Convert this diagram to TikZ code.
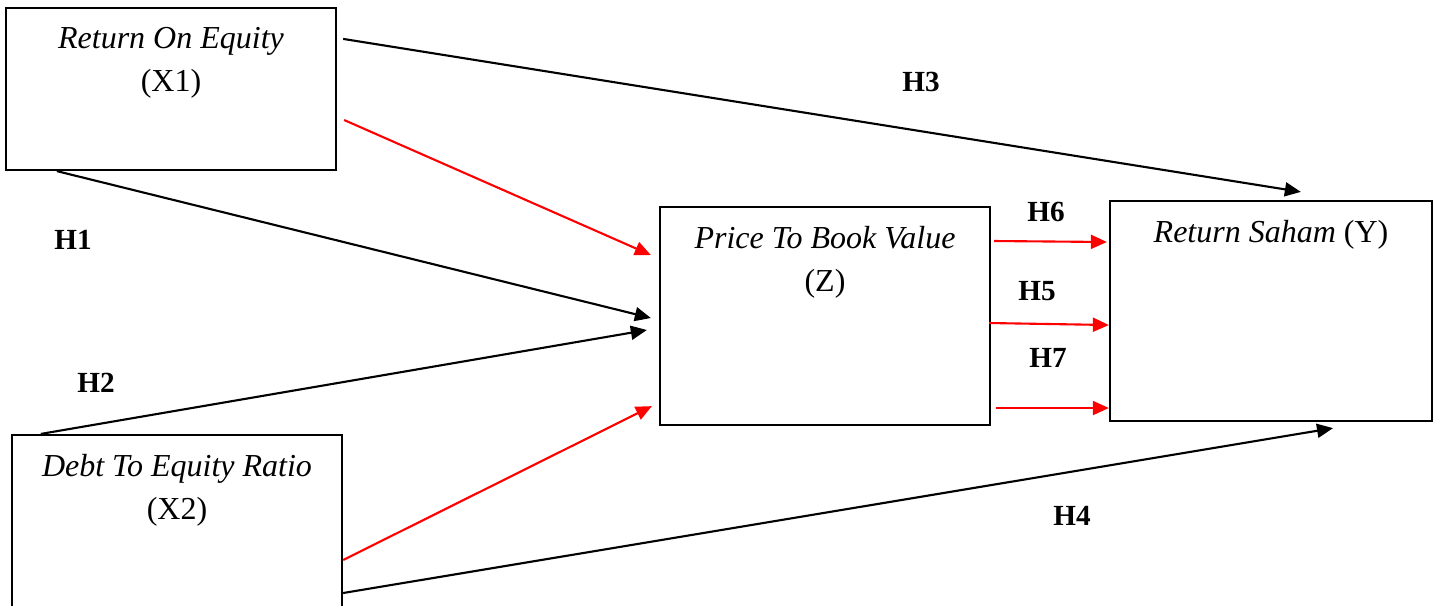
\documentclass[tikz,border=0pt]{standalone}
\usepackage{fontspec}
\setmainfont{Liberation Serif}
\usetikzlibrary{arrows.meta, positioning, calc}

\begin{document}
\begin{tikzpicture}[
		x=0.01cm, y=-0.01cm,
		>={Triangle[length=1.6mm, width=1.4mm]},
		var/.style={draw, line width=0.6pt, inner sep=0pt, minimum width=3.3cm},
		txt/.style={align=center, inner sep=0pt, font=\fontsize{9.1}{12}\selectfont},
		hyp/.style={inner sep=0pt, font=\fontsize{8.3}{10}\selectfont\bfseries},
		arr/.style={->, line width=0.6pt},
		arrred/.style={arr, red},
	]
		\clip (0,0) rectangle (1437,605);

		% Variables
		\node[var, minimum height=1.62cm] (x1) at (171,89) {};
		\node[var, minimum height=1.8cm] (x2) at (177,525) {};
		\node[var, minimum height=2.18cm] (z) at (825,316) {};
		\node[var, minimum width=3.22cm, minimum height=2.2cm] (y) at (1271,311) {};

		\node[txt, below=0.2cm of x1.north] (x1txt) {\textit{Return On Equity}\\(X1)};
		\node[txt, below=0.2cm of x2.north] (x2txt) {\textit{Debt To Equity Ratio}\\(X2)};
		\node[txt, below=0.2cm of z.north] (ztxt) {\textit{Price To Book Value}\\(Z)};
		\node[txt, below=0.2cm of y.north] (ytxt) {\textit{Return Saham} (Y)};

		% Direct paths
		\draw[arr] ($(x1.north east)+(6,32)$) -- ($(y.north west)+(192,-8)$);
		\draw[arr] ($(x1.south west)+(52,0)$) -- ($(z.west)+(-8,2)$);
		\draw[arr] ($(x2.north west)+(30,0)$) -- ($(z.west)+(-12,14)$);
		\draw[arr] ($(x2.east)+(0,68)$) -- ($(y.south)+(62,6)$);

		% Paths through Z
		\draw[arrred] ($(x1.east)+(7,31)$) -- ($(z.west)+(-8,-61)$);
		\draw[arrred] ($(x2.east)+(0,35)$) -- ($(z.south west)+(-7,-20)$);
		\draw[arrred] ($(z.east)+(3,-75)$) -- ($(y.west)+(-2,-69)$);
		\draw[arrred] ($(z.east)+(-2,7)$) -- ($(y.west)+(0,14)$);
		\draw[arrred] ($(z.east)+(5,92)$) -- ($(y.west)+(0,97)$);

		% Hypotheses
		\node[hyp] (h1) at (73,240) {H1};
		\node[hyp] (h2) at (96,383) {H2};
		\node[hyp] (h3) at (921,82) {H3};
		\node[hyp] (h4) at (1072,516) {H4};
		\node[hyp] (h5) at (1037,291) {H5};
		\node[hyp] (h6) at (1046,212) {H6};
		\node[hyp] (h7) at (1048,358) {H7};
	\end{tikzpicture}
\end{document}
